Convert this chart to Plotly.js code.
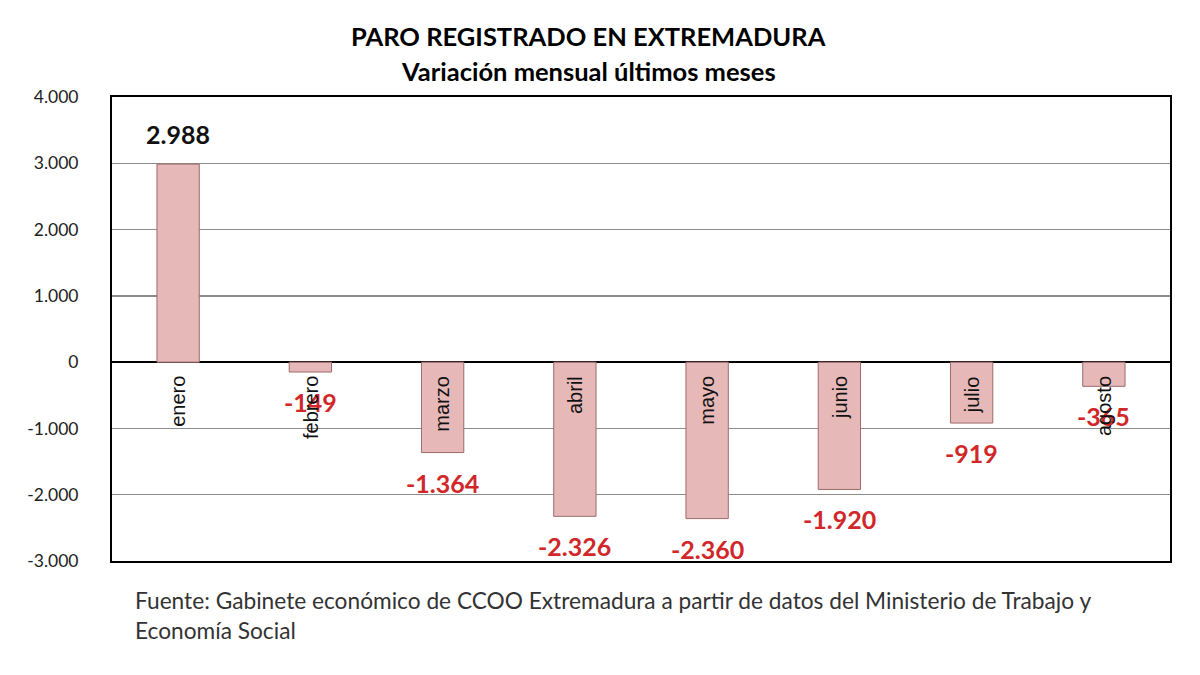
<!DOCTYPE html>
<html>
<head>
<meta charset="utf-8">
<script src="https://cdn.plot.ly/plotly-3.0.1.min.js"></script>
<style>
  html, body { margin: 0; padding: 0; background: #fff; }
  #chart { width: 1200px; height: 675px; }
</style>
</head>
<body>
<div id="chart"></div>
<script>
// Datos: variación mensual del paro registrado
const meses = ['enero', 'febrero', 'marzo', 'abril', 'mayo', 'junio', 'julio', 'agosto'];
const variacion = [2988, -149, -1364, -2326, -2360, -1920, -919, -365];
const yTicks = [-3000, -2000, -1000, 0, 1000, 2000, 3000, 4000];

const FONT = 'Lato, "Open Sans", "Liberation Sans", sans-serif';
const FONT_EJE = '"Liberation Sans", Arial, sans-serif';

// formato con punto de miles
const fmt = (v) => {
    const s = Math.abs(v).toString().replace(/\B(?=(\d{3})+(?!\d))/g, '.');
    return (v < 0 ? '-' : '') + s;
};

const trace = {
    x: meses,
    y: variacion,
    type: 'bar',
    marker: {
        color: '#E6B9B8',
        line: { color: '#9C6B69', width: 1 }
    },
    hoverinfo: 'x+y'
};

const annotations = [];

// etiquetas de valor
meses.forEach((m, i) => {
    const v = variacion[i];
    annotations.push({
        x: m, y: v, xref: 'x', yref: 'y',
        text: '<b>' + fmt(v) + '</b>',
        showarrow: false,
        yanchor: v >= 0 ? 'bottom' : 'top',
        yshift: v >= 0 ? 13 : -13,
        font: { family: FONT, size: 25, color: v >= 0 ? '#111111' : '#D0282A' }
    });
});

// etiquetas de meses, giradas, junto al eje cero
meses.forEach((m) => {
    annotations.push({
        x: m, y: 0, xref: 'x', yref: 'y',
        text: m,
        textangle: -90,
        showarrow: false,
        yanchor: 'top',
        yshift: -12,
        font: { family: FONT_EJE, size: 20, color: '#111111' }
    });
});

// título
annotations.push({
    xref: 'paper', yref: 'paper', x: (588 - 112) / 1058, y: (561 - 36) / 464,
    text: '<b>PARO REGISTRADO EN EXTREMADURA</b>',
    showarrow: false, xanchor: 'center', yanchor: 'middle',
    font: { family: FONT, size: 25.5, color: '#000000' }
});
annotations.push({
    xref: 'paper', yref: 'paper', x: (588 - 112) / 1058, y: (561 - 71) / 464,
    text: '<b>Variación mensual últimos meses</b>',
    showarrow: false, xanchor: 'center', yanchor: 'middle',
    font: { family: FONT, size: 25.5, color: '#000000' }
});

// fuente
annotations.push({
    xref: 'paper', yref: 'paper', x: (133 - 112) / 1058, y: (561 - 585) / 464,
    text: 'Fuente: Gabinete económico de CCOO Extremadura a partir de datos del Ministerio de Trabajo y<br>Economía Social',
    showarrow: false, xanchor: 'left', yanchor: 'top', align: 'left',
    font: { family: FONT, size: 22.7, color: '#333333' }
});

const layout = {
    width: 1200,
    height: 675,
    margin: { l: 112, r: 30, t: 97, b: 114 },
    paper_bgcolor: '#ffffff',
    plot_bgcolor: '#ffffff',
    separators: ',.',
    showlegend: false,
    bargap: 0.68,
    font: { family: FONT, color: '#111111' },
    xaxis: {
        showticklabels: false,
        ticks: '',
        showgrid: false,
        zeroline: false,
        showline: true,
        linecolor: '#000000',
        linewidth: 2,
        mirror: true,
        fixedrange: true
    },
    yaxis: {
        range: [-3000, 4000],
        tickvals: yTicks,
        ticktext: yTicks.map(fmt),
        ticks: '',
        ticklabelstandoff: 28,
        tickfont: { family: FONT, size: 17.5, color: '#222222' },
        showgrid: true,
        gridcolor: '#8c8c8c',
        gridwidth: 1.5,
        zeroline: true,
        zerolinecolor: '#000000',
        zerolinewidth: 2,
        showline: true,
        linecolor: '#000000',
        linewidth: 2,
        mirror: true,
        fixedrange: true
    },
    annotations: annotations
};

Plotly.newPlot('chart', [trace], layout, { displayModeBar: false, staticPlot: true });
</script>
</body>
</html>
